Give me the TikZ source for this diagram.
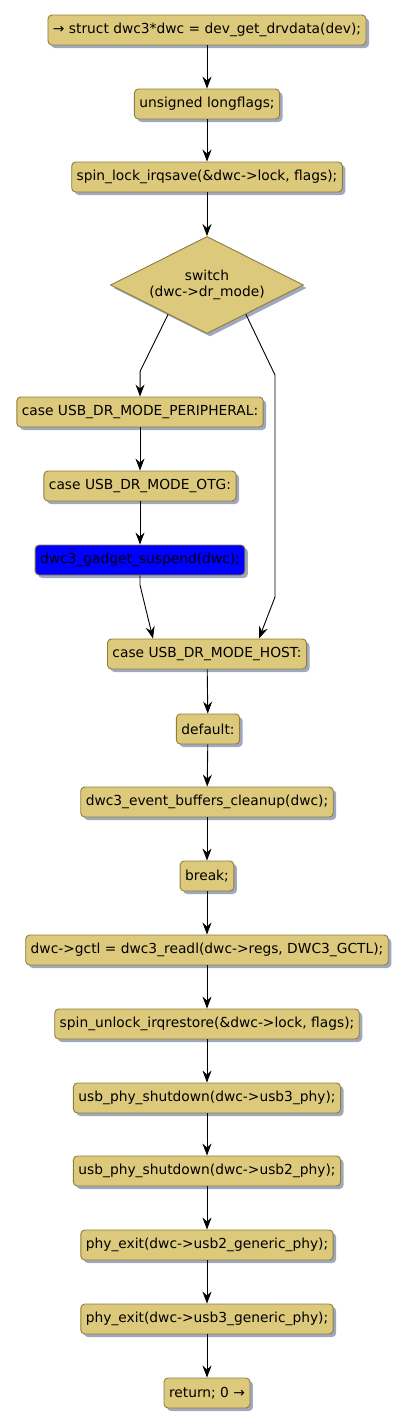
\documentclass[tikz,border=0pt]{standalone}
\usepackage{fontspec}
\setmainfont{DejaVu Sans}
\usetikzlibrary{calc, arrows.meta, shapes.geometric, shadows}
\definecolor{boxfill}{RGB}{221,201,123}
\definecolor{boxline}{RGB}{140,125,60}
\definecolor{shadowc}{RGB}{160,168,192}
\begin{document}
\begin{tikzpicture}[x=1pt, y=-1pt,
  every node/.style={font=\fontsize{13.8}{16.5}\selectfont, text=black},
  box/.style={rectangle, rounded corners=4pt, draw=boxline, fill=boxfill, minimum height=30pt, inner xsep=5pt, inner ysep=2pt,
    drop shadow={shadow xshift=3pt, shadow yshift=-3pt, fill=shadowc, opacity=1}},
  choice/.style={diamond, aspect=2, draw=boxline, fill=boxfill, minimum width=193pt, minimum height=97pt, inner sep=0pt, align=center,
    drop shadow={shadow xshift=3pt, shadow yshift=-3pt, fill=shadowc, opacity=1}},
  every path/.style={line width=0.9pt},
  arr/.style={-{Stealth[length=12pt, width=9pt, inset=4pt]}}]
  \useasboundingbox (0,0) rectangle (408,1428);
  \node[box] (start) at (207,30) {→ struct dwc3*dwc = dev\_get\_drvdata(dev);};
  \node[box] (flags) at (207,104) {unsigned longflags;};
  \node[box] (lock) at (207,177) {spin\_lock\_irqsave(\&dwc->lock, flags);};
  \node[choice] (sw) at (207,285) {switch\\(dwc->dr\_mode)};
  \node[box] (peri) at (140,412) {case USB\_DR\_MODE\_PERIPHERAL:};
  \node[box] (otg) at (140,486) {case USB\_DR\_MODE\_OTG:};
  \node[box, fill=blue] (gad) at (140,560) {dwc3\_gadget\_suspend(dwc);};
  \node[box] (host) at (207,654) {case USB\_DR\_MODE\_HOST:};
  \node[box] (dflt) at (208,729) {default:};
  \node[box] (evbuf) at (207,802) {dwc3\_event\_buffers\_cleanup(dwc);};
  \node[box] (brk) at (207,876) {break;};
  \node[box] (gctl) at (207,950) {dwc->gctl = dwc3\_readl(dwc->regs, DWC3\_GCTL);};
  \node[box] (unlock) at (207,1024) {spin\_unlock\_irqrestore(\&dwc->lock, flags);};
  \node[box] (usb3) at (207,1098) {usb\_phy\_shutdown(dwc->usb3\_phy);};
  \node[box] (usb2) at (207,1171) {usb\_phy\_shutdown(dwc->usb2\_phy);};
  \node[box] (gen2) at (207,1245) {phy\_exit(dwc->usb2\_generic\_phy);};
  \node[box] (gen3) at (207,1319) {phy\_exit(dwc->usb3\_generic\_phy);};
  \node[box] (ret) at (207,1393) {return; 0 →};
  % straight flow
  \draw[arr] (start) -- (flags);
  \draw[arr] (flags) -- (lock);
  \draw[arr] (lock) -- (sw);
  \draw[arr] (peri) -- (otg);
  \draw[arr] (otg) -- (gad);
  % switch branches
  \draw[arr] (sw.217) -- ++(-28,57) -- (peri);
  \draw[arr] (sw.323) -- (275,375) -- (275,597) -- ($(host.north)+(52,0)$);
  \draw[arr] (gad) -- ++(0,25) -- ($(host.north)+(-54,0)$);
  \draw[arr] (host) -- (dflt);
  \draw[arr] (dflt) -- (evbuf);
  \draw[arr] (evbuf) -- (brk);
  \draw[arr] (brk) -- (gctl);
  \draw[arr] (gctl) -- (unlock);
  \draw[arr] (unlock) -- (usb3);
  \draw[arr] (usb3) -- (usb2);
  \draw[arr] (usb2) -- (gen2);
  \draw[arr] (gen2) -- (gen3);
  \draw[arr] (gen3) -- (ret);
\end{tikzpicture}
\end{document}
